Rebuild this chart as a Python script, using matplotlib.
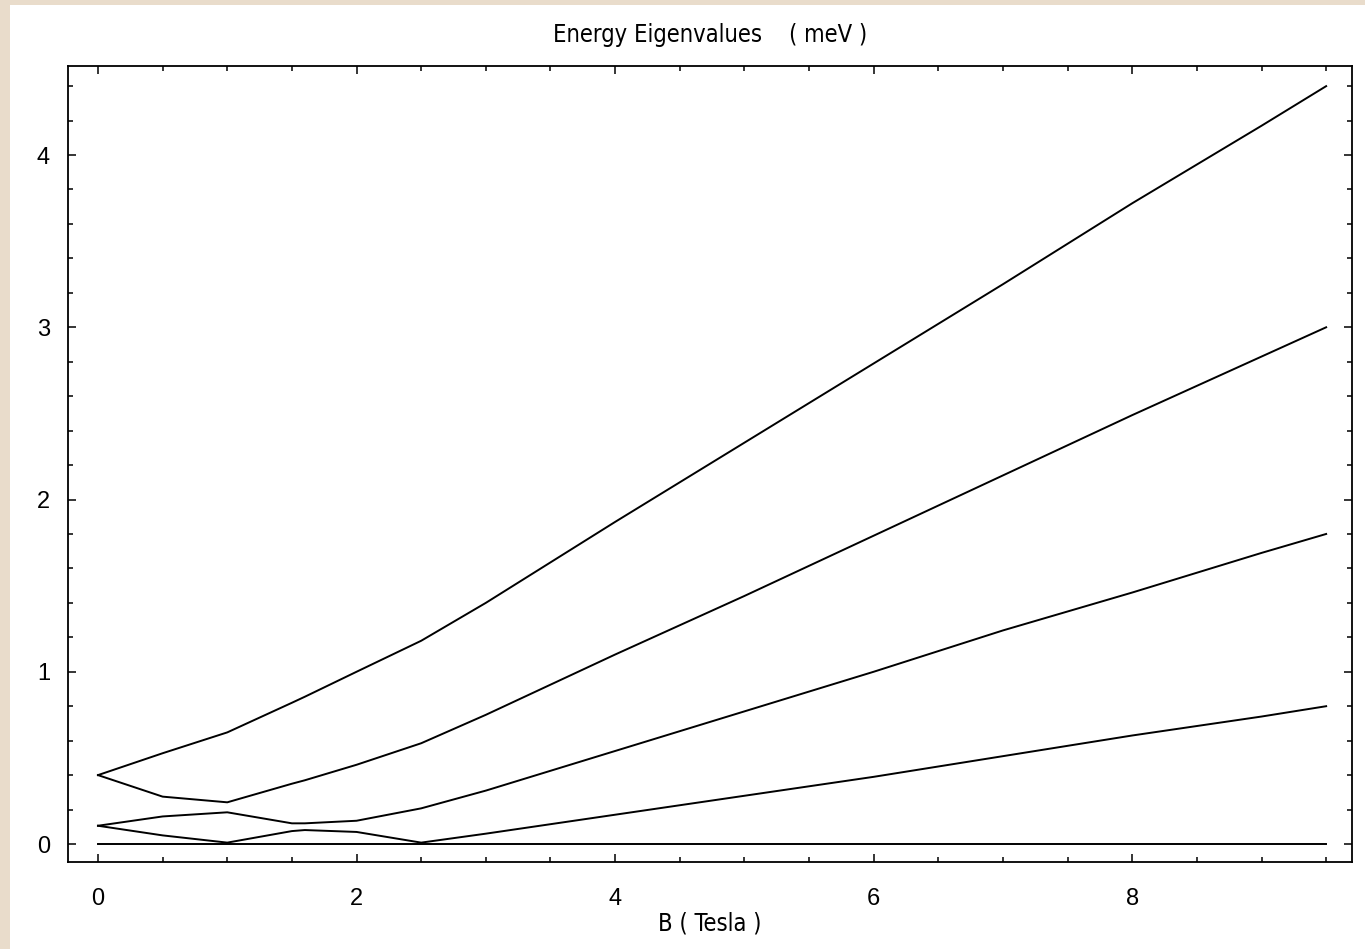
import numpy as np
import matplotlib
matplotlib.use("Agg")
import matplotlib.pyplot as plt
from matplotlib.patches import Rectangle
from matplotlib.ticker import MultipleLocator

# magnetic field (Tesla)
b_field = [0, 0.5, 1, 1.5, 1.6, 2, 2.5, 3, 4, 5, 6, 7, 8, 9, 9.5]

# energy eigenvalues (meV), one list per level
level_0 = [0, 0, 0, 0, 0, 0, 0, 0, 0, 0, 0, 0, 0, 0, 0]
level_1 = [0.106, 0.05, 0.008, 0.075, 0.081, 0.07, 0.008, 0.06, 0.17, 0.28, 0.39, 0.51, 0.63, 0.74, 0.80]
level_2 = [0.106, 0.16, 0.184, 0.12, 0.12, 0.135, 0.207, 0.31, 0.54, 0.77, 1.0, 1.24, 1.46, 1.69, 1.80]
level_3 = [0.40, 0.275, 0.242, 0.35, 0.37, 0.46, 0.585, 0.75, 1.10, 1.44, 1.79, 2.14, 2.49, 2.83, 3.0]
level_4 = [0.40, 0.527, 0.648, 0.82, 0.855, 1.0, 1.18, 1.40, 1.87, 2.33, 2.79, 3.25, 3.72, 4.17, 4.40]
levels = [level_0, level_1, level_2, level_3, level_4]

title_text = "Energy Eigenvalues    ( meV )"
xlabel_text = "B ( Tesla )"

fig = plt.figure(figsize=(13.65, 9.49), dpi=100)
fig.patch.set_facecolor("#e9dccb")
# white panel behind the plot
fig.patches.append(Rectangle((10 / 1365, 0), 1, 1 - 5 / 949, transform=fig.transFigure,
                             facecolor="white", edgecolor="none", zorder=-10))

ax = fig.add_axes([68 / 1365, 1 - 862 / 949, (1352 - 68) / 1365, (862 - 66) / 949])
ax.set_facecolor("white")

for lv in levels:
    ax.plot(b_field, lv, color="black", lw=1.4)

ax.set_xlim(-0.232, 9.70)
ax.set_ylim(-0.1045, 4.517)

ax.xaxis.set_major_locator(MultipleLocator(2))
ax.xaxis.set_minor_locator(MultipleLocator(0.5))
ax.yaxis.set_major_locator(MultipleLocator(1))
ax.yaxis.set_minor_locator(MultipleLocator(0.2))
ax.tick_params(which="both", direction="in", top=True, right=True, width=1.1,
               colors="black", labelsize=17)
ax.tick_params(which="major", length=6)
ax.tick_params(which="minor", length=3.5)
ax.tick_params(axis="x", pad=19)
ax.tick_params(axis="y", pad=13)
for lab in ax.get_xticklabels() + ax.get_yticklabels():
    lab.set_family(["Liberation Sans", "DejaVu Sans"])
for sp in ax.spines.values():
    sp.set_linewidth(1.3)

ax.set_title(title_text, fontsize=17, family="DejaVu Sans", fontstretch="condensed", pad=17)
ax.set_xlabel(xlabel_text, fontsize=17, family="DejaVu Sans", fontstretch="condensed",
              labelpad=1)

fig.savefig("out.png", dpi=100, facecolor=fig.get_facecolor())
